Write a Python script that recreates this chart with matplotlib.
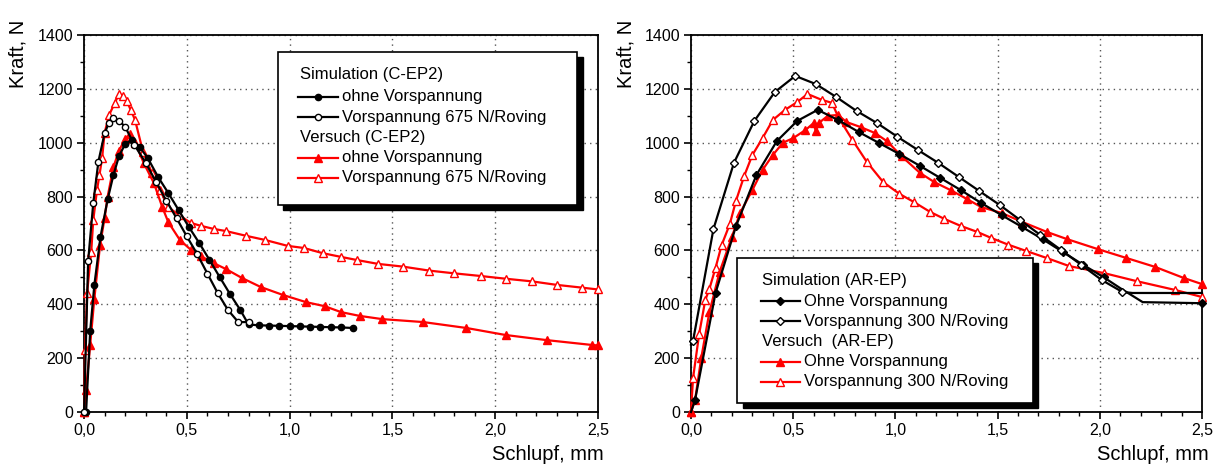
import matplotlib
matplotlib.use("Agg")
import matplotlib.pyplot as plt
from matplotlib.patches import Rectangle
from matplotlib.lines import Line2D
from matplotlib.ticker import MultipleLocator, FuncFormatter

plt.rcParams['font.family'] = ['Liberation Sans', 'DejaVu Sans']

# ---------------- C-EP2 ----------------
cep_sim_ohne_x = [0.01, 0.03, 0.05, 0.08, 0.115, 0.143, 0.17, 0.20, 0.233, 0.27, 0.31, 0.36, 0.41, 0.46,
                  0.51, 0.56, 0.61, 0.66, 0.71, 0.76, 0.80, 0.85, 0.90, 0.95, 1.00, 1.05, 1.10, 1.15,
                  1.20, 1.25, 1.31]
cep_sim_ohne_y = [0, 300, 470, 650, 790, 880, 950, 995, 1010, 985, 943, 873, 813, 750,
                  687, 628, 565, 501, 438, 379, 325, 322, 321, 320, 319, 318, 317, 316,
                  315, 314, 312]

cep_sim_675_x = [0.0, 0.02, 0.045, 0.07, 0.10, 0.12, 0.143, 0.17, 0.20, 0.245, 0.30, 0.35, 0.40,
                 0.45, 0.50, 0.55, 0.60, 0.65, 0.70, 0.75, 0.80]
cep_sim_675_y = [0, 560, 776, 930, 1035, 1072, 1090, 1082, 1059, 992, 925, 855, 785,
                 720, 652, 587, 514, 442, 379, 334, 334]

cep_vers_ohne_x = [0.0, 0.01, 0.03, 0.05, 0.078, 0.10, 0.115, 0.143, 0.17, 0.20, 0.224, 0.25, 0.29,
                   0.34, 0.38, 0.41, 0.466, 0.52, 0.57, 0.63, 0.69, 0.77, 0.86, 0.97, 1.08, 1.17,
                   1.25, 1.34, 1.45, 1.65, 1.86, 2.05, 2.25, 2.47, 2.5]
cep_vers_ohne_y = [0, 82, 250, 420, 620, 720, 800, 910, 970, 1015, 1033, 1000, 925,
                   850, 762, 705, 639, 602, 578, 553, 531, 497, 464, 434, 408, 393,
                   371, 357, 345, 334, 312, 286, 267, 249, 247]

cep_vers_675_x = [0.0, 0.005, 0.015, 0.035, 0.045, 0.063, 0.075, 0.088, 0.10, 0.122, 0.15, 0.17,
                  0.19, 0.208, 0.228, 0.248, 0.287, 0.33, 0.37, 0.41, 0.46, 0.52, 0.57, 0.63,
                  0.69, 0.79, 0.88, 0.99, 1.07, 1.16, 1.25, 1.33, 1.43, 1.55, 1.68, 1.80, 1.93,
                  2.05, 2.18, 2.30, 2.42, 2.5]
cep_vers_675_y = [0, 230, 442, 595, 713, 824, 880, 943, 1036, 1103, 1148, 1181,
                  1172, 1155, 1120, 1085, 966, 888, 824, 761, 732, 702, 691, 680,
                  672, 654, 639, 617, 609, 590, 576, 564, 550, 540, 525, 515, 505,
                  495, 485, 472, 462, 455]

# ---------------- AR-EP ----------------
ar_sim_ohne_x = [0.0, 0.02, 0.12, 0.22, 0.32, 0.42, 0.52, 0.62, 0.72, 0.82, 0.92, 1.02, 1.12, 1.22,
                 1.32, 1.42, 1.52, 1.62, 1.72, 1.82, 1.92, 2.02, 2.10, 2.21, 2.5]
ar_sim_ohne_y = [0, 45, 442, 690, 880, 1006, 1081, 1122, 1084, 1040, 999, 958, 914, 869,
                 824, 776, 731, 687, 642, 594, 546, 500, 460, 408, 404]
ar_sim_ohne_marks = list(range(1, 22)) + [24]

ar_sim_300_x = [0.0, 0.01, 0.11, 0.21, 0.31, 0.41, 0.51, 0.61, 0.71, 0.81, 0.91, 1.01, 1.11, 1.21,
                1.31, 1.41, 1.51, 1.61, 1.71, 1.81, 1.91, 2.01, 2.11, 2.16, 2.5]
ar_sim_300_y = [250, 264, 680, 925, 1081, 1188, 1248, 1218, 1170, 1118, 1073, 1022, 973, 925,
                873, 821, 769, 713, 657, 602, 546, 490, 446, 442, 442]
ar_sim_300_marks = list(range(1, 23))

ar_vers_ohne_x = [0.0, 0.02, 0.05, 0.09, 0.14, 0.20, 0.24, 0.30, 0.35, 0.40, 0.45, 0.50, 0.56, 0.60,
                  0.61, 0.625, 0.67, 0.72, 0.76, 0.83, 0.90, 0.96, 1.03, 1.12, 1.19, 1.27, 1.35,
                  1.42, 1.52, 1.62, 1.74, 1.84, 1.99, 2.13, 2.27, 2.41, 2.5]
ar_vers_ohne_y = [0, 45, 200, 371, 520, 650, 739, 824, 899, 954, 1000, 1017, 1047, 1073,
                  1044, 1073, 1100, 1103, 1077, 1058, 1036, 1005, 950, 888, 854, 824, 791,
                  761, 739, 706, 669, 642, 605, 572, 539, 498, 475]

ar_vers_300_x = [0.0, 0.01, 0.04, 0.07, 0.09, 0.12, 0.15, 0.19, 0.22, 0.26, 0.30, 0.35, 0.40, 0.46,
                 0.52, 0.57, 0.64, 0.69, 0.72, 0.79, 0.86, 0.94, 1.02, 1.09, 1.17, 1.24, 1.32,
                 1.40, 1.47, 1.55, 1.64, 1.74, 1.85, 2.02, 2.18, 2.37, 2.5]
ar_vers_300_y = [0, 126, 290, 416, 457, 535, 620, 698, 784, 876, 954, 1017, 1084, 1122,
                 1151, 1181, 1159, 1148, 1096, 1010, 929, 854, 810, 780, 743, 717, 691,
                 669, 646, 622, 598, 572, 542, 516, 486, 453, 427]

RED = '#ff0000'
LW = 1.6

fig = plt.figure(figsize=(12.23, 4.69), dpi=100)
ax1 = fig.add_axes([0.0687, 0.1215, 0.4203, 0.8039])
ax2 = fig.add_axes([0.5650, 0.1215, 0.4178, 0.8039])

comma = FuncFormatter(lambda v, p: f"{v:.1f}".replace('.', ','))


def style_axes(ax):
    ax.set_xlim(0, 2.5)
    ax.set_ylim(0, 1400)
    ax.xaxis.set_major_locator(MultipleLocator(0.5))
    ax.xaxis.set_minor_locator(MultipleLocator(0.1))
    ax.yaxis.set_major_locator(MultipleLocator(200))
    ax.yaxis.set_minor_locator(MultipleLocator(100))
    ax.xaxis.set_major_formatter(comma)
    ax.tick_params(which='major', direction='out', length=5, width=1.2, labelsize=11.5, pad=3)
    ax.tick_params(which='minor', direction='out', length=3, width=1.0)
    ax.grid(True, which='major', color='#555555', linestyle=(0, (1, 3)), linewidth=1.0)
    for s in ax.spines.values():
        s.set_linewidth(1.3)
    ax.set_ylabel('Kraft, N', fontsize=14.5)
    ax.yaxis.set_label_coords(-0.109, 0.95)
    ax.set_xlabel('Schlupf, mm', fontsize=14.5)
    ax.xaxis.set_label_coords(0.903, -0.088)


def draw_legend(ax, box, rows, title_x, handle_x, text_x, fontsize=12):
    x0, y0, x1, y1 = box
    sx, sy = 0.011, 0.014
    ax.add_patch(Rectangle((x0 + sx, y0 - sy), x1 - x0, y1 - y0, transform=ax.transAxes,
                           facecolor='black', edgecolor='black', zorder=9, clip_on=False))
    ax.add_patch(Rectangle((x0, y0), x1 - x0, y1 - y0, transform=ax.transAxes,
                           facecolor='white', edgecolor='black', linewidth=1.2, zorder=10,
                           clip_on=False))
    for y, label, st in rows:
        if st is None:
            ax.text(title_x, y, label, transform=ax.transAxes, fontsize=fontsize,
                    va='center', ha='left', zorder=11)
        else:
            ax.add_line(Line2D([handle_x[0], handle_x[1]], [y, y], transform=ax.transAxes,
                               color=st['color'], lw=LW, zorder=11, clip_on=False))
            ax.add_line(Line2D([handle_x[2]], [y], transform=ax.transAxes,
                               color=st['color'], marker=st['marker'], ms=st['ms'],
                               mfc=st['mfc'], mec=st['color'], mew=1.0, zorder=12,
                               clip_on=False))
            ax.text(text_x, y, label, transform=ax.transAxes, fontsize=fontsize,
                    va='center', ha='left', zorder=11)


# styles
s_black_fill_c = dict(color='black', marker='o', ms=4.5, mfc='black')
s_black_open_c = dict(color='black', marker='o', ms=4.5, mfc='white')
s_red_fill_t = dict(color=RED, marker='^', ms=5.5, mfc=RED)
s_red_open_t = dict(color=RED, marker='^', ms=5.5, mfc='white')
s_black_fill_d = dict(color='black', marker='D', ms=4.5, mfc='black')
s_black_open_d = dict(color='black', marker='D', ms=4.5, mfc='white')


def plot_series(ax, x, y, st, markevery=None, z=3):
    ax.plot(x, y, color=st['color'], lw=LW, marker=st['marker'], ms=st['ms'],
            mfc=st['mfc'], mec=st['color'], mew=1.0, markevery=markevery, zorder=z,
            clip_on=False)


# ---- left panel ----
style_axes(ax1)
plot_series(ax1, cep_vers_675_x, cep_vers_675_y, s_red_open_t)
plot_series(ax1, cep_vers_ohne_x, cep_vers_ohne_y, s_red_fill_t)
plot_series(ax1, cep_sim_ohne_x, cep_sim_ohne_y, s_black_fill_c, z=4)
plot_series(ax1, cep_sim_675_x, cep_sim_675_y, s_black_open_c, z=4)

draw_legend(ax1, (0.377, 0.549, 0.959, 0.955),
            [(0.894, 'Simulation (C-EP2)', None),
             (0.836, 'ohne Vorspannung', s_black_fill_c),
             (0.782, 'Vorspannung 675 N/Roving', s_black_open_c),
             (0.729, 'Versuch (C-EP2)', None),
             (0.674, 'ohne Vorspannung', s_red_fill_t),
             (0.621, 'Vorspannung 675 N/Roving', s_red_open_t)],
            title_x=0.420, handle_x=(0.416, 0.494, 0.455), text_x=0.502)

# ---- right panel ----
style_axes(ax2)
plot_series(ax2, ar_vers_300_x, ar_vers_300_y, s_red_open_t)
plot_series(ax2, ar_vers_ohne_x, ar_vers_ohne_y, s_red_fill_t)
plot_series(ax2, ar_sim_ohne_x, ar_sim_ohne_y, s_black_fill_d, markevery=ar_sim_ohne_marks, z=4)
plot_series(ax2, ar_sim_300_x, ar_sim_300_y, s_black_open_d, markevery=ar_sim_300_marks, z=4)

draw_legend(ax2, (0.090, 0.024, 0.669, 0.408),
            [(0.350, 'Simulation (AR-EP)', None),
             (0.294, 'Ohne Vorspannung', s_black_fill_d),
             (0.241, 'Vorspannung 300 N/Roving', s_black_open_d),
             (0.188, 'Versuch  (AR-EP)', None),
             (0.133, 'Ohne Vorspannung', s_red_fill_t),
             (0.080, 'Vorspannung 300 N/Roving', s_red_open_t)],
            title_x=0.139, handle_x=(0.137, 0.213, 0.174), text_x=0.221)

fig.savefig('out.png', dpi=100)
